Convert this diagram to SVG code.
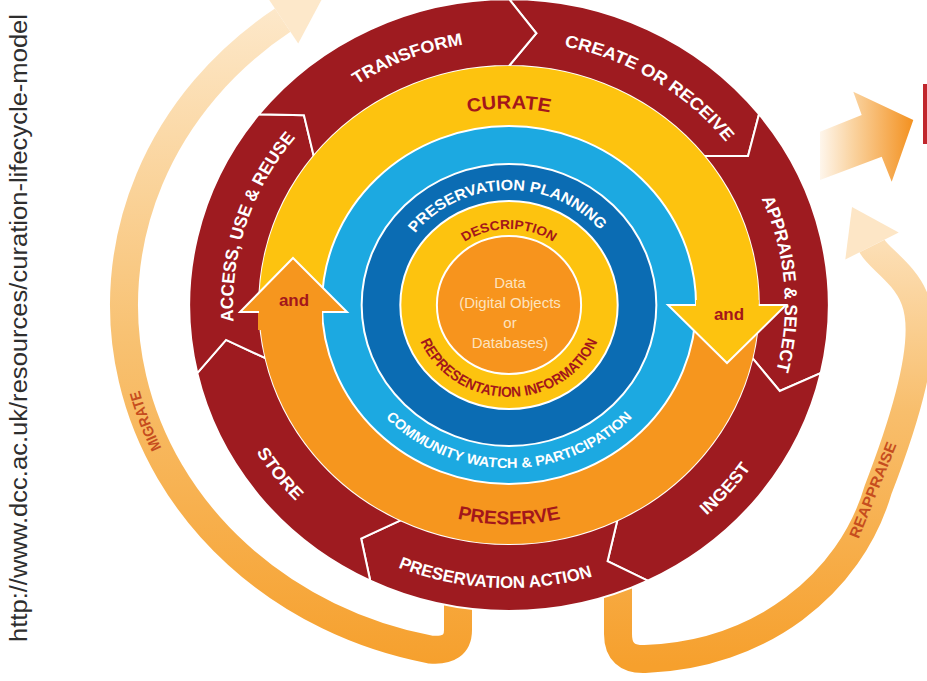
<svg xmlns="http://www.w3.org/2000/svg" width="927" height="681" viewBox="0 0 927 681">
<style>
.seg{fill:#9E1B20;stroke:#fff;stroke-width:2;vector-effect:non-scaling-stroke;stroke-linejoin:miter}
.ring{stroke:#fff;stroke-width:2;vector-effect:non-scaling-stroke}
.rl{font-family:"Liberation Sans",Arial,sans-serif;font-weight:700;font-size:17px;fill:#fff}
.bl{font-family:"Liberation Sans",Arial,sans-serif;font-weight:700;fill:#A3161B}
.wl{font-family:"Liberation Sans",Arial,sans-serif;font-weight:700;fill:#fff}
.dt{font-family:"Liberation Sans",Arial,sans-serif;font-size:15px;fill:#FDE3BF;text-anchor:middle}
.ol{font-family:"Liberation Sans",Arial,sans-serif;font-weight:700;font-size:15px;fill:#C64D1E}
.edge{fill:none;stroke:#fff;stroke-width:2;stroke-linejoin:miter}
</style>
<defs>
<linearGradient id="gMig" gradientUnits="userSpaceOnUse" x1="0" y1="665" x2="0" y2="0">
<stop offset="0" stop-color="#F6A02D"/><stop offset="0.5" stop-color="#F8C273"/><stop offset="1" stop-color="#FDE9CC"/>
</linearGradient>
<linearGradient id="gRea" gradientUnits="userSpaceOnUse" x1="0" y1="665" x2="0" y2="205">
<stop offset="0" stop-color="#F6A02D"/><stop offset="0.55" stop-color="#F8BE6C"/><stop offset="1" stop-color="#FDE6C6"/>
</linearGradient>
<linearGradient id="gOut" gradientUnits="userSpaceOnUse" x1="820" y1="0" x2="914" y2="0">
<stop offset="0" stop-color="#FEF6EC"/><stop offset="0.35" stop-color="#FAD3A0"/><stop offset="1" stop-color="#F3901E"/>
</linearGradient>
<path id="p-transform" d="M -232.0 -126.0 A 264 264 0 0 1 83.8 -250.4"/>
<path id="p-create" d="M -60.7 -256.9 A 264 264 0 0 1 256.9 -60.7"/>
<path id="p-appraise" d="M 170.8 -201.3 A 264 264 0 0 1 201.3 170.8"/>
<path id="p-ingest" d="M 89.3 268.5 A 283 283 0 0 0 277.2 56.9"/>
<path id="p-action" d="M -251.7 129.4 A 283 283 0 0 0 237.9 153.3"/>
<path id="p-store" d="M -280.5 37.4 A 283 283 0 0 0 -107.8 261.6"/>
<path id="p-access" d="M -235.0 120.3 A 264 264 0 0 1 -120.3 -235.0"/>
<path id="p-curate" d="M -126.3 -150.5 A 196.5 196.5 0 0 1 126.3 -150.5"/>
<path id="p-preserve" d="M -141.1 168.1 A 219.5 219.5 0 0 0 141.1 168.1"/>
<path id="p-comm" d="M -153.2 55.7 A 163 163 0 0 0 153.2 55.7"/>
<path id="p-ppl" d="M -111.6 -27.8 A 115 115 0 0 1 110.5 -31.7"/>
<path id="p-desc" d="M -71.4 -26.0 A 76 76 0 0 1 71.4 -26.0"/>
<path id="p-repr" d="M -92.1 8.1 A 92.5 92.5 0 0 0 92.1 8.1"/>
<path id="p-migrate" d="M 217.1 528.7 A 380 347 0 0 1 128.2 292.9"/>
</defs>
<rect width="927" height="681" fill="#fff"/>

<text id="source-url" transform="translate(27 328) rotate(-90)" text-anchor="middle" font-family="'Liberation Sans Narrow','Liberation Sans',Arial,sans-serif" font-size="23" fill="#2e2e2e" textLength="628" lengthAdjust="spacingAndGlyphs">http://www.dcc.ac.uk/resources/curation-lifecycle-model</text>

<g id="connectors">
  <g id="migrate">
    <path d="M 458 585 L 458 630 Q 458 652 430 649.5 A 385 352 0 0 1 282.7 20.2" fill="none" stroke="url(#gMig)" stroke-width="28"/>
    <polygon points="298.2,43.5 326,-8.6 267.2,-3.1" fill="#FDE8CA"/>
    <text class="ol"><textPath href="#p-migrate" startOffset="50%" text-anchor="middle" textLength="62" lengthAdjust="spacingAndGlyphs">MIGRATE</textPath></text>
  </g>
  <g id="reappraise">
    <path d="M 618 585 L 618 634 Q 618 660 645 659 C 760 655 850 585 878 490 C 905 420 930 340 915 300 C 905 273 878 258 872 246" fill="none" stroke="url(#gRea)" stroke-width="28"/>
    <polygon points="898.7,232.5 852,207 845.3,259.5" fill="#FDE6C6"/>
    <text class="ol" transform="translate(873 490) rotate(-68)" y="5" text-anchor="middle" textLength="102" lengthAdjust="spacingAndGlyphs">REAPPRAISE</text>
  </g>
  <g id="outgoing">
    <polygon points="820,131.7 861.7,115 853.3,91.7 913.3,120 891.7,181.7 881.7,156.7 820,180" fill="url(#gOut)"/>
    <rect x="923" y="84" width="4" height="60" fill="#C1272D"/>
  </g>
</g>

<g id="lifecycle" transform="translate(509 305) scale(1.045 1)">
  <g id="node-create-or-receive">
    <path class="seg" d="M 0 -306 A 306 306 0 0 1 239.24 -190.79 L 228.76 -148.99 L 186.86 -149.01 A 239 239 0 0 0 0 -239 L 26.17 -271.74 Z"/>
    <text class="rl" text-anchor="middle"><textPath href="#p-create" startOffset="50%" textLength="186" lengthAdjust="spacingAndGlyphs">CREATE OR RECEIVE</textPath></text>
  </g>
  <g id="node-appraise-select">
    <path class="seg" d="M 239.24 -190.79 A 306 306 0 0 1 298.33 68.09 L 259.11 85.98 L 233.01 53.18 A 239 239 0 0 0 186.86 -149.01 L 228.76 -148.99 Z"/>
    <text class="rl" text-anchor="middle"><textPath href="#p-appraise" startOffset="50%" textLength="176" lengthAdjust="spacingAndGlyphs">APPRAISE &amp; SELECT</textPath></text>
  </g>
  <g id="node-ingest">
    <path class="seg" d="M 298.33 68.09 A 306 306 0 0 1 132.77 275.70 L 94.33 256.19 L 103.70 215.33 A 239 239 0 0 0 233.01 53.18 L 259.11 85.98 Z"/>
    <text class="rl" text-anchor="middle"><textPath href="#p-ingest" startOffset="50%" textLength="64" lengthAdjust="spacingAndGlyphs">INGEST</textPath></text>
  </g>
  <g id="node-preservation-action">
    <path class="seg" d="M 132.77 275.70 A 306 306 0 0 1 -132.77 275.70 L -141.46 233.49 L -103.70 215.33 A 239 239 0 0 0 103.70 215.33 L 94.33 256.19 Z"/>
    <text class="rl" text-anchor="middle"><textPath href="#p-action" startOffset="50%" textLength="190" lengthAdjust="spacingAndGlyphs">PRESERVATION ACTION</textPath></text>
  </g>
  <g id="node-store">
    <path class="seg" d="M -132.77 275.70 A 306 306 0 0 1 -298.33 68.09 L -270.75 34.96 L -233.01 53.18 A 239 239 0 0 0 -103.70 215.33 L -141.46 233.49 Z"/>
    <text class="rl" text-anchor="middle"><textPath href="#p-store" startOffset="50%" textLength="62" lengthAdjust="spacingAndGlyphs">STORE</textPath></text>
  </g>
  <g id="node-access-use-reuse">
    <path class="seg" d="M -298.33 68.09 A 306 306 0 0 1 -239.24 -190.79 L -196.22 -189.81 L -186.86 -149.01 A 239 239 0 0 0 -233.01 53.18 L -270.75 34.96 Z"/>
    <text class="rl" text-anchor="middle"><textPath href="#p-access" startOffset="50%" textLength="198" lengthAdjust="spacingAndGlyphs">ACCESS, USE &amp; REUSE</textPath></text>
  </g>
  <g id="node-transform">
    <path class="seg" d="M -239.24 -190.79 A 306 306 0 0 1 0 -306 L 26.17 -271.74 L 0 -239 A 239 239 0 0 0 -186.86 -149.01 L -196.22 -189.81 Z"/>
    <text class="rl" text-anchor="middle"><textPath href="#p-transform" startOffset="50%" textLength="110" lengthAdjust="spacingAndGlyphs">TRANSFORM</textPath></text>
  </g>
  <g id="node-curate">
    <path d="M -239 0 A 239 239 0 0 1 239 0 Z" fill="#FDC30F"/>
    <text class="bl" font-size="19" text-anchor="middle"><textPath href="#p-curate" startOffset="50%" textLength="79" lengthAdjust="spacingAndGlyphs">CURATE</textPath></text>
  </g>
  <g id="node-preserve">
    <path d="M 239 0 A 239 239 0 0 1 -239 0 Z" fill="#F6961E"/>
    <text class="bl" font-size="19" text-anchor="middle"><textPath href="#p-preserve" startOffset="50%" textLength="100" lengthAdjust="spacingAndGlyphs">PRESERVE</textPath></text>
  </g>
  <g id="node-community-watch">
    <circle r="179" fill="#1CA9E1" class="ring"/>
    <text class="wl" font-size="14" text-anchor="middle"><textPath href="#p-comm" startOffset="50%" textLength="264" lengthAdjust="spacingAndGlyphs">COMMUNITY WATCH &amp; PARTICIPATION</textPath></text>
  </g>
  <g id="node-preservation-planning">
    <circle r="141" fill="#0B6CB3" class="ring"/>
    <text class="wl" font-size="15" text-anchor="middle"><textPath href="#p-ppl" startOffset="50%" textLength="202" lengthAdjust="spacingAndGlyphs">PRESERVATION PLANNING</textPath></text>
  </g>
  <g id="node-description">
    <circle r="104" fill="#FDC30F" class="ring"/>
    <text class="bl" font-size="13" text-anchor="middle"><textPath href="#p-desc" startOffset="50%" textLength="90" lengthAdjust="spacingAndGlyphs">DESCRIPTION</textPath></text>
    <text class="bl" font-size="14.5" text-anchor="middle"><textPath href="#p-repr" startOffset="50%" textLength="214" lengthAdjust="spacingAndGlyphs">REPRESENTATION INFORMATION</textPath></text>
  </g>
  <g id="node-data">
    <circle r="69" fill="#F7941D" class="ring"/>
  </g>
</g>

<g id="node-data-label">
  <text class="dt" x="510" y="288">Data</text>
  <text class="dt" x="510" y="308">(Digital Objects</text>
  <text class="dt" x="510" y="328">or</text>
  <text class="dt" x="510" y="348">Databases)</text>
</g>

<g id="node-and-preserve">
  <polygon points="258,330 258,312 240,312 293,258 347,312 322,312 322,330" fill="#F6961E"/>
  <polyline class="edge" points="259,312 240,312 293,258 347,312 322,312"/>
  <text class="bl" font-size="17" x="294" y="306" text-anchor="middle">and</text>
</g>
<g id="node-and-curate">
  <polygon points="696,300 696,305 668,305 727,363 786,305 758.7,305 758.7,300" fill="#FDC30F"/>
  <polyline class="edge" points="696,305 668,305 727,363 786,305 758.7,305"/>
  <text class="bl" font-size="17" x="729" y="320" text-anchor="middle">and</text>
</g>
</svg>
